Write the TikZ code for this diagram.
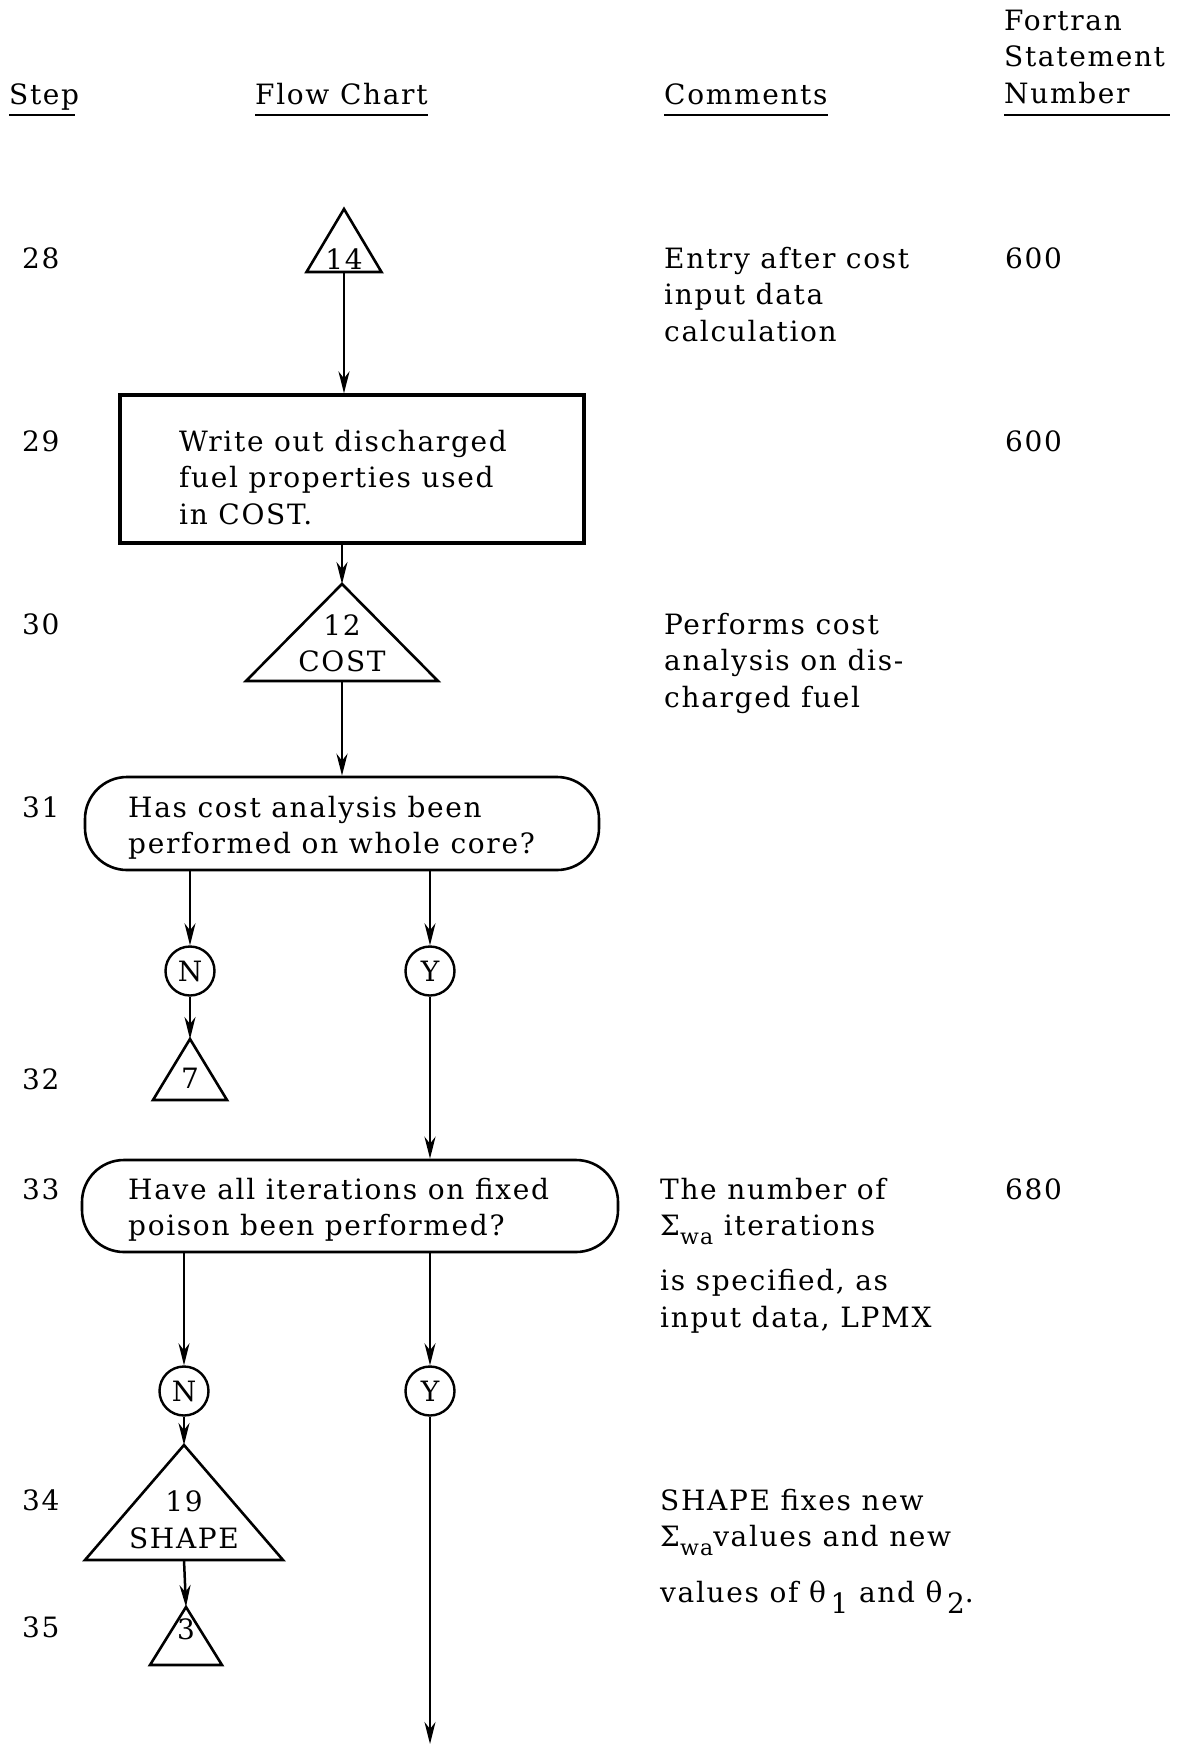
\documentclass[tikz,border=0pt]{standalone}
\usepackage{fontspec}
\setmainfont{DejaVu Serif}[LetterSpace=6]
\usetikzlibrary{arrows.meta}

\newcommand\bodyfont{\fontsize{28}{36.75}\selectfont}
\newcommand\subwa{\raisebox{-9pt}{\fontsize{22}{22}\selectfont wa}}
\newcommand\thsub[1]{\,\raisebox{-11pt}{#1}}

% triangle connector: name, apex x, apex y, half width, height
\newcommand\flowtri[5]{%
  \coordinate (#1-apex) at (#2,#3);
  \coordinate (#1-base) at (#2,#3+#5);
  \draw[tri] (#1-apex) -- ++(-#4,#5) -- ++(2*#4,0) -- cycle;
}

\begin{document}
\begin{tikzpicture}[x=1pt,y=-1pt,
  every node/.style={inner sep=0pt, font=\bodyfont},
  txt/.style={anchor=north west, align=left},
  tri/.style={line width=2.6pt, line join=miter},
  stepbox/.style={draw, line width=3.2pt, minimum width=464pt, minimum height=148pt},
  decision/.style={draw, line width=2.6pt, rounded corners=42pt},
  yn/.style={draw, circle, line width=2.4pt, minimum size=49pt},
  arr/.style={line width=2.5pt, -{Stealth[length=22pt, width=11pt, inset=7pt]}},
  rule/.style={line width=2.4pt}
]
\useasboundingbox (0,0) rectangle (1176,1746);
\fill[white] (0,0) rectangle (1176,1746);

% column headings
\node[txt] (hstep) at (9,78.3) {\strut Step};
\node[txt] (hflow) at (255,78.3) {\strut Flow Chart};
\node[txt] (hcomm) at (664,78.3) {\strut Comments};
\node[txt] (hfort) at (1004,4.3) {\strut Fortran\\Statement\\Number};
\draw[rule] (9,115) -- (75,115);
\draw[rule] (hflow.west |- 0,115) -- (hflow.east |- 0,115);
\draw[rule] (hcomm.west |- 0,115) -- (hcomm.east |- 0,115);
\draw[rule] (hfort.west |- 0,115) -- (1170,115);

% step numbers
\node[txt] (s28) at (22,242.3) {\strut 28};
\node[txt] (s29) at (22,425.3) {\strut 29};
\node[txt] (s30) at (22,608.3) {\strut 30};
\node[txt] (s31) at (22,791.3) {\strut 31};
\node[txt] (s32) at (22,1063.3) {\strut 32};
\node[txt] (s33) at (22,1173.3) {\strut 33};
\node[txt] (s34) at (22,1484.3) {\strut 34};
\node[txt] (s35) at (22,1611.3) {\strut 35};

% comments
\node[txt] (c28) at (664,242.3) {\strut Entry after cost\\input data\\calculation};
\node[txt] (c30) at (664,608.3) {\strut Performs cost\\analysis on dis-\\charged fuel};
\node[txt] (c33) at (660,1173.3) {\strut The number of\\Σ\subwa{} iterations\\[18pt]is specified, as\\input data, LPMX};
\node[txt] (c34) at (660,1484.3) {\strut SHAPE fixes new\\Σ\subwa values and new\\[19pt]values of θ\thsub{1} and θ\thsub{2}.};

% statement numbers
\node[txt] (f28) at (1005,242.3) {\strut 600};
\node[txt] (f29) at (1005,425.3) {\strut 600};
\node[txt] (f33) at (1005,1173.3) {\strut 680};

% flow chart
\flowtri{t14}{344}{209}{37.5}{63}
\node (l14) at (344,259) {14};

\node[stepbox] (wr) at (352,469) {};
\node[txt] (wrtext) at (179,425.3) {\strut Write out discharged\\fuel properties used\\in COST.};

\flowtri{tcost}{342}{584}{96}{97}
\node (lcost1) at (342,625) {12};
\node (lcost2) at (342,661) {COST};

\node[decision, minimum width=514pt, minimum height=93pt] (q1) at (342,823.5) {};
\node[txt] (q1text) at (128,791.3) {\strut Has cost analysis been\\performed on whole core?};

\node[yn] (n1) at (190,971) {N};
\node[yn] (y1) at (430,971) {Y};

\flowtri{t7}{190}{1039}{37}{61}
\node (l7) at (190,1078) {7};

\node[decision, minimum width=536pt, minimum height=92pt] (q2) at (350,1206) {};
\node[txt] (q2text) at (128,1173.3) {\strut Have all iterations on fixed\\poison been performed?};

\node[yn] (n2) at (184,1391) {N};
\node[yn] (y2) at (430,1391) {Y};

\flowtri{tshape}{184}{1445}{99}{115}
\node (lshape1) at (184,1501) {19};
\node (lshape2) at (184,1538) {SHAPE};

\flowtri{t3}{186}{1607}{36}{58}
\node (l3) at (186,1629) {3};

\coordinate (yend) at (430,1744);

% connectors
\draw[arr] (t14-base) -- (t14-base |- wr.north);
\draw[arr] (tcost-apex |- wr.south) -- (tcost-apex);
\draw[arr] (tcost-base) -- (tcost-base |- q1.north);
\draw[arr] (n1 |- q1.south) -- (n1.north);
\draw[arr] (y1 |- q1.south) -- (y1.north);
\draw[arr] (n1.south) -- (t7-apex);
\draw[arr] (y1.south) -- (y1 |- q2.north);
\draw[arr] (n2 |- q2.south) -- (n2.north);
\draw[arr] (y2 |- q2.south) -- (y2.north);
\draw[arr] (n2.south) -- (tshape-apex);
\draw[arr] (tshape-base) -- (t3-apex);
\draw[arr] (y2.south) -- (yend);
\end{tikzpicture}
\end{document}
